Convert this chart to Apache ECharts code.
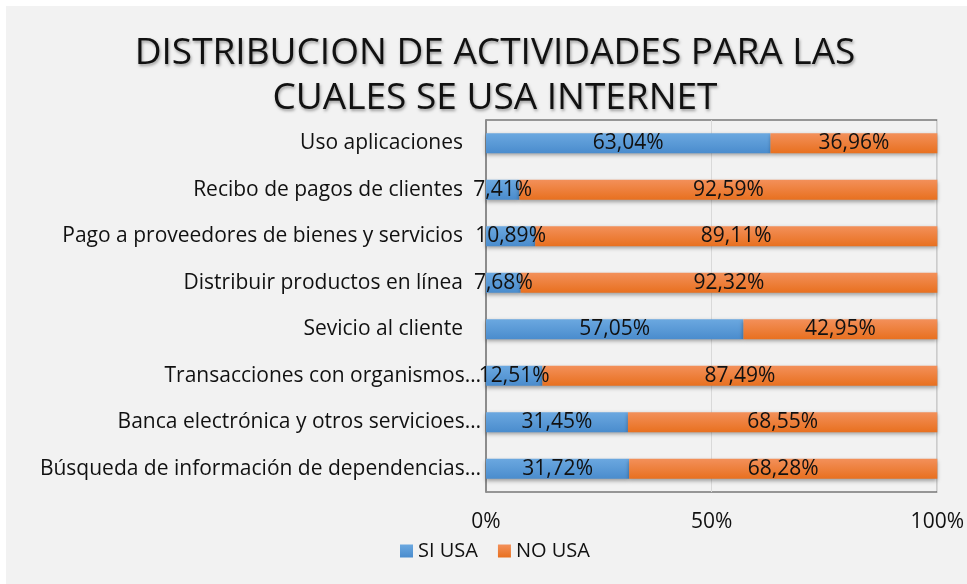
<!DOCTYPE html>
<html>
<head>
<meta charset="utf-8">
<script src="https://cdn.jsdelivr.net/npm/echarts@6/dist/echarts.min.js"></script>
<style>
  body { margin: 0; background: #fff; }
  #bg { position: absolute; left: 6px; top: 6px; width: 961px; height: 578px; background: #f2f2f2; }
  #main { position: absolute; left: 0; top: 0; width: 967px; height: 584px; }
</style>
</head>
<body>
<div id="bg"></div>
<div id="main"></div>
<script>
// categorias (de abajo hacia arriba, como las pinta el eje)
const categories = [
  'Búsqueda de información de dependencias…',
  'Banca electrónica y otros servicioes…',
  'Transacciones con organismos…',
  'Sevicio al cliente',
  'Distribuir productos en línea',
  'Pago a proveedores de bienes y servicios',
  'Recibo de pagos de clientes',
  'Uso aplicaciones'
]
const siUsa = [31.72, 31.45, 12.51, 57.05, 7.68, 10.89, 7.41, 63.04]
const noUsa = [68.28, 68.55, 87.49, 42.95, 92.32, 89.11, 92.59, 36.96]
const xTicks = [0, 50, 100]

const FONT = 'Open Sans'
const fmt = (p) => p.value.toFixed(2).replace('.', ',') + '%'

// las etiquetas cortadas por Excel quedan mas pegadas al eje
const catData = categories.map((c) => ({
  value: c,
  textStyle: { padding: c.endsWith('…') ? [0, 0, 0, 0] : [0, 18, 0, 0] }
}))

const blue = new echarts.graphic.LinearGradient(0, 0, 0, 1, [
  { offset: 0, color: '#6ba8e0' },
  { offset: 1, color: '#4a8ccd' }
])
const orange = new echarts.graphic.LinearGradient(0, 0, 0, 1, [
  { offset: 0, color: '#f3905a' },
  { offset: 1, color: '#e8701f' }
])

const chart = echarts.init(document.getElementById('main'))
chart.setOption({
  backgroundColor: 'transparent',
  title: {
    text: 'DISTRIBUCION DE ACTIVIDADES PARA LAS\nCUALES SE USA INTERNET',
    left: 490,
    textAlign: 'center',
    top: 26,
    textStyle: {
      fontFamily: FONT,
      fontSize: 37,
      fontWeight: 'normal',
      color: '#111',
      lineHeight: 45,
      textShadowColor: 'rgba(0,0,0,0.35)',
      textShadowBlur: 3,
      textShadowOffsetX: 1,
      textShadowOffsetY: 2
    }
  },
  legend: {
    data: ['SI USA', 'NO USA'],
    left: 400,
    top: 541,
    padding: 0,
    itemWidth: 13,
    itemHeight: 13,
    itemGap: 20,
    icon: 'rect',
    textStyle: { fontFamily: FONT, fontSize: 20, color: '#111' }
  },
  grid: {
    left: 486,
    right: 29,
    top: 120,
    bottom: 92,
    show: true,
    borderColor: '#3a3a3a',
    borderWidth: 1
  },
  xAxis: {
    type: 'value',
    min: 0,
    max: 100,
    interval: 50,
    axisLine: { show: false },
    axisTick: { show: false },
    splitLine: { lineStyle: { color: '#d9d9d9' } },
    axisLabel: {
      margin: 20,
      fontFamily: FONT,
      fontSize: 21,
      color: '#111',
      formatter: (v) => (xTicks.includes(v) ? v + '%' : '')
    }
  },
  yAxis: {
    type: 'category',
    data: catData,
    axisLine: { show: true, lineStyle: { color: '#8c8c8c', width: 2 } },
    axisTick: { show: false },
    axisLabel: {
      margin: 5,
      fontFamily: FONT,
      fontSize: 21,
      color: '#111'
    }
  },
  series: [
    {
      name: 'SI USA',
      type: 'bar',
      stack: 'total',
      barWidth: 20,
      data: siUsa,
      itemStyle: {
        color: blue,
        shadowColor: 'rgba(0,0,0,0.35)',
        shadowBlur: 4,
        shadowOffsetY: 2
      },
      label: {
        show: true,
        position: 'inside',
        formatter: fmt,
        fontFamily: FONT,
        fontSize: 21,
        color: '#111'
      }
    },
    {
      name: 'NO USA',
      type: 'bar',
      stack: 'total',
      barWidth: 20,
      data: noUsa,
      itemStyle: {
        color: orange,
        shadowColor: 'rgba(0,0,0,0.35)',
        shadowBlur: 4,
        shadowOffsetY: 2
      },
      label: {
        show: true,
        position: 'inside',
        formatter: fmt,
        fontFamily: FONT,
        fontSize: 21,
        color: '#111'
      }
    }
  ]
})
</script>
</body>
</html>
